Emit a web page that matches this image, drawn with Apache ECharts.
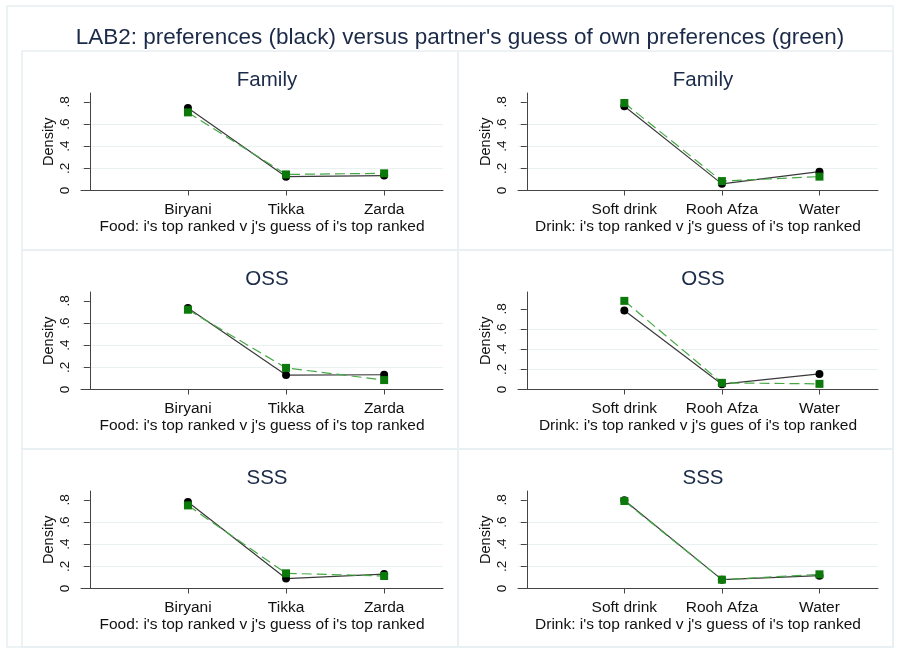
<!DOCTYPE html>
<html>
<head>
<meta charset="utf-8">
<script src="https://cdn.jsdelivr.net/npm/echarts@6/dist/echarts.min.js"></script>
<style>
html,body{margin:0;padding:0;background:#fff;}
#chart{width:899px;height:655px;}
</style>
</head>
<body>
<div id="chart"></div>
<script>
// ---- data ----
const mainTitle = "LAB2: preferences (black) versus partner's guess of own preferences (green)";
const foodCats = ['Biryani', 'Tikka', 'Zarda'];
const drinkCats = ['Soft drink', 'Rooh Afza', 'Water'];
const catPos = [1, 2, 3];
const panelTitles = ['Family', 'Family', 'OSS', 'OSS', 'SSS', 'SSS'];
const xTitles = [
  "Food: i's top ranked v j's guess of i's top ranked",
  "Drink: i's top ranked v j's guess of i's top ranked",
  "Food: i's top ranked v j's guess of i's top ranked",
  "Drink: i's top ranked v j's gues of i's top ranked",
  "Food: i's top ranked v j's guess of i's top ranked",
  "Drink: i's top ranked v j's guess of i's top ranked"
];
const yTickValues = [0, 0.2, 0.4, 0.6, 0.8];
const yTickLabels = ['0', '.2', '.4', '.6', '.8'];

const famFoodOwn    = [0.745, 0.125, 0.135];
const famFoodGuess  = [0.705, 0.145, 0.155];
const famDrinkOwn   = [0.760, 0.060, 0.170];
const famDrinkGuess = [0.790, 0.085, 0.125];
const ossFoodOwn    = [0.735, 0.130, 0.133];
const ossFoodGuess  = [0.720, 0.195, 0.085];
const ossDrinkOwn   = [0.785, 0.053, 0.155];
const ossDrinkGuess = [0.880, 0.066, 0.056];
const sssFoodOwn    = [0.780, 0.090, 0.130];
const sssFoodGuess  = [0.750, 0.137, 0.113];
const sssDrinkOwn   = [0.797, 0.080, 0.116];
const sssDrinkGuess = [0.790, 0.080, 0.128];

const ownSeries   = [famFoodOwn, famDrinkOwn, ossFoodOwn, ossDrinkOwn, sssFoodOwn, sssDrinkOwn];
const guessSeries = [famFoodGuess, famDrinkGuess, ossFoodGuess, ossDrinkGuess, sssFoodGuess, sssDrinkGuess];
const yMaxes = [0.88, 0.88, 0.88, 0.968, 0.88, 0.88];

// ---- layout ----
const FONT = 'Liberation Sans, Arial, sans-serif';
const colLeft = [81, 518];
const colWidth = [362, 360];
const rowTop = [93, 292, 491];
const gridH = 97.5;
const lineCol = '#e8f0f2';

const chart = echarts.init(document.getElementById('chart'), null, {renderer: 'canvas'});

const grids = [], xAxes = [], yAxes = [], series = [], titles = [];
titles.push({
  text: mainTitle, left: 455, top: 21, textAlign: 'center',
  textStyle: {fontFamily: FONT, fontSize: 22.5, fontWeight: 'normal', color: '#1a2a48'}
});
for (let i = 0; i < 6; i++) {
  const c = i % 2, r = Math.floor(i / 2);
  const cats = c === 0 ? foodCats : drinkCats;
  grids.push({left: colLeft[c], top: rowTop[r], width: colWidth[c], height: gridH, containLabel: false});
  titles.push({
    text: panelTitles[i], left: colLeft[c] + colWidth[c] / 2, top: rowTop[r] - 28, textAlign: 'center',
    textStyle: {fontFamily: FONT, fontSize: 20.5, fontWeight: 'normal', color: '#1a2a48'}
  });
  xAxes.push({
    type: 'value', gridIndex: i, min: -0.09, max: 3.6,
    name: xTitles[i], nameLocation: 'middle', nameGap: 26,
    nameTextStyle: {fontFamily: FONT, fontSize: 15.5, color: '#111'},
    axisLine: {show: true, onZero: false, lineStyle: {color: '#444', width: 1}},
    axisTick: {show: true, length: 5, customValues: catPos, lineStyle: {color: '#444'}},
    axisLabel: {customValues: catPos, margin: 11, fontFamily: FONT, fontSize: 15.5, color: '#111',
      formatter: (v) => cats[Math.round(v) - 1] || ''},
    splitLine: {show: false}
  });
  yAxes.push({
    type: 'value', gridIndex: i, min: 0, max: yMaxes[i], interval: 0.2,
    name: 'Density', nameLocation: 'middle', nameGap: 25,
    nameTextStyle: {fontFamily: FONT, fontSize: 14.5, color: '#111'},
    axisLine: {show: true, lineStyle: {color: '#444', width: 1}},
    axisTick: {show: true, length: 6, customValues: yTickValues, lineStyle: {color: '#444'}},
    axisLabel: {customValues: yTickValues, rotate: 90, margin: 9, fontFamily: FONT, fontSize: 13.5, color: '#111',
      formatter: (v) => { const k = yTickValues.findIndex(t => Math.abs(t - v) < 1e-6); return k >= 0 ? yTickLabels[k] : ''; }},
    splitLine: {show: true, showMinLine: false, showMaxLine: false, lineStyle: {color: lineCol, width: 1}}
  });
  series.push({
    type: 'line', xAxisIndex: i, yAxisIndex: i,
    data: catPos.map((x, k) => [x, ownSeries[i][k]]),
    symbol: 'circle', symbolSize: 8, showAllSymbol: true,
    lineStyle: {color: '#3a3a3a', width: 1.2, type: 'solid'},
    itemStyle: {color: '#000'}, animation: false, z: 3
  });
  series.push({
    type: 'line', xAxisIndex: i, yAxisIndex: i,
    data: catPos.map((x, k) => [x, guessSeries[i][k]]),
    symbol: 'rect', symbolSize: 8, showAllSymbol: true,
    lineStyle: {color: '#45a845', width: 1.2, type: [10, 5]},
    itemStyle: {color: '#0b7a0b'}, animation: false, z: 4
  });
}

const graphics = [
  {type: 'rect', shape: {x: 7, y: 6, width: 886, height: 641}, style: {fill: 'none', stroke: lineCol, lineWidth: 1.5}, z: -10}
];
const pxL = [22, 458], pwid = [436, 435], pyT = [51, 250, 449], ph = [199, 199, 198];
for (let r = 0; r < 3; r++) for (let c = 0; c < 2; c++) {
  graphics.push({type: 'rect', shape: {x: pxL[c], y: pyT[r], width: pwid[c], height: ph[r]},
    style: {fill: 'none', stroke: lineCol, lineWidth: 1.5}, z: -10});
}

chart.setOption({
  animation: false,
  backgroundColor: '#fff',
  title: titles,
  grid: grids,
  xAxis: xAxes,
  yAxis: yAxes,
  series: series,
  graphic: graphics
});
</script>
</body>
</html>
